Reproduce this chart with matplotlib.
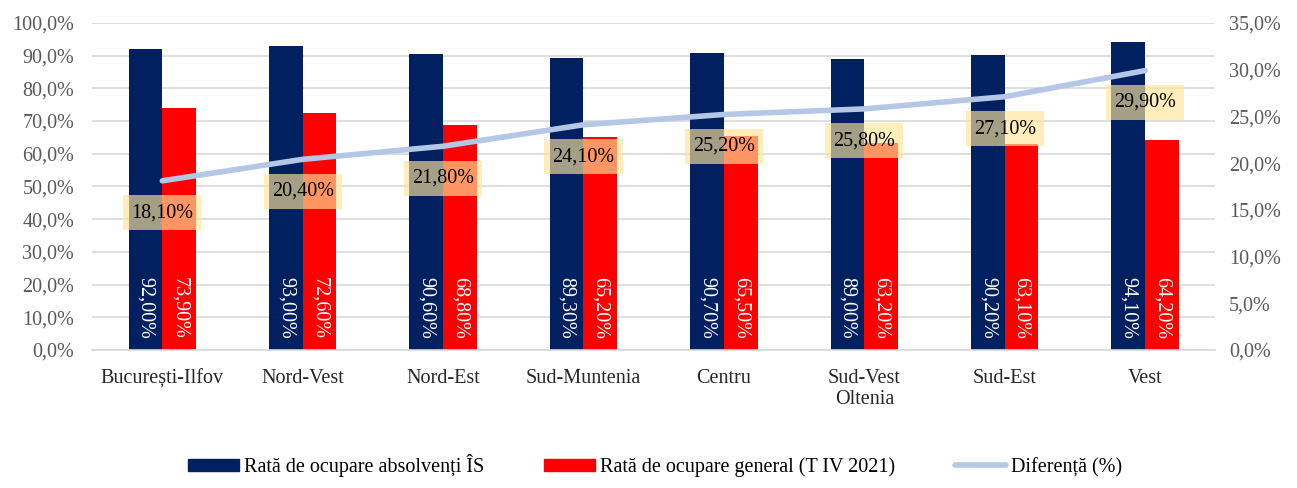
import numpy as np
import matplotlib.pyplot as plt
from matplotlib.patches import Patch
from matplotlib.lines import Line2D

regiuni = ['București-Ilfov', 'Nord-Vest', 'Nord-Est', 'Sud-Muntenia',
           'Centru', 'Sud-Vest\nOltenia', 'Sud-Est', 'Vest']
rata_absolventi = [92.0, 93.0, 90.6, 89.3, 90.7, 89.0, 90.2, 94.1]
rata_general = [73.9, 72.6, 68.8, 65.2, 65.5, 63.2, 63.1, 64.2]
diferenta = [18.1, 20.4, 21.8, 24.1, 25.2, 25.8, 27.1, 29.9]

left_ticks = np.arange(0, 101, 10)
right_ticks = np.arange(0, 36, 5)

plt.rcParams['font.family'] = ['Liberation Serif', 'DejaVu Serif']

navy = '#002060'
red = '#FF0000'
line_col = '#B4C7E7'
grey = '#595959'
fs = 14.5

def fmt(v, d=1):
    return ('%.*f' % (d, v)).replace('.', ',') + '%'

fig, ax1 = plt.subplots(figsize=(12.97, 4.88), dpi=100)
fig.subplots_adjust(left=0.071, right=0.937, top=0.953, bottom=0.283)

x = np.arange(len(regiuni))
w = 0.24
ax1.bar(x - w/2, rata_absolventi, w, color=navy, zorder=2)
ax1.bar(x + w/2, rata_general, w, color=red, zorder=2)

for xi, v in zip(x, rata_absolventi):
    ax1.annotate(fmt(v, 2), (xi - w/2, 0), xytext=(0, 8), textcoords='offset points',
                 rotation=270, ha='center', va='bottom', color='white', fontsize=fs, zorder=3)
for xi, v in zip(x, rata_general):
    ax1.annotate(fmt(v, 2), (xi + w/2, 0), xytext=(0, 8), textcoords='offset points',
                 rotation=270, ha='center', va='bottom', color='white', fontsize=fs, zorder=3)

ax1.set_ylim(0, 100)
ax1.set_xlim(-0.5, len(regiuni) - 0.5)
ax1.set_yticks(left_ticks)
ax1.set_yticklabels([fmt(t) for t in left_ticks])
ax1.set_xticks(x)
ax1.set_xticklabels(regiuni, fontsize=fs, color='#262626', linespacing=1.1)
ax1.grid(axis='y', color='#D9D9D9', linewidth=1.2, zorder=0)
ax1.set_axisbelow(True)
for s in ['top', 'right', 'left']:
    ax1.spines[s].set_visible(False)
ax1.spines['bottom'].set_color('#D9D9D9')
ax1.spines['bottom'].set_linewidth(1.2)
ax1.tick_params(axis='y', length=0, labelsize=fs, labelcolor=grey, pad=13)
ax1.tick_params(axis='x', length=0, pad=14)

ax2 = ax1.twinx()
ax2.plot(x, diferenta, color=line_col, linewidth=4, solid_capstyle='round', zorder=4)
ax2.set_ylim(0, 35)
ax2.set_yticks(right_ticks)
ax2.set_yticklabels([fmt(t) for t in right_ticks])
ax2.tick_params(axis='y', length=0, labelsize=fs, labelcolor=grey, pad=10)
for s in ['top', 'right', 'left', 'bottom']:
    ax2.spines[s].set_visible(False)

for xi, v in zip(x, diferenta):
    ax2.annotate(fmt(v, 2), (xi, v), xytext=(0, -23), textcoords='offset points',
                 ha='center', va='center', fontsize=fs, color='black', zorder=5,
                 bbox=dict(boxstyle='square,pad=0.4', fc='#FFE699', ec='none', alpha=0.65))

handles = [Patch(color=navy, label='Rată de ocupare absolvenți ÎS'),
           Patch(color=red, label='Rată de ocupare general (T IV 2021)'),
           Line2D([0], [0], color=line_col, linewidth=4, solid_capstyle='round',
                  label='Diferență (%)')]
fig.legend(handles=handles, loc='lower center', ncol=3, frameon=False,
           fontsize=fs, bbox_to_anchor=(0.505, -0.015), columnspacing=3.0,
           handlelength=2.5, handleheight=0.6, handletextpad=0.25)

plt.savefig('out.png', dpi=100)
